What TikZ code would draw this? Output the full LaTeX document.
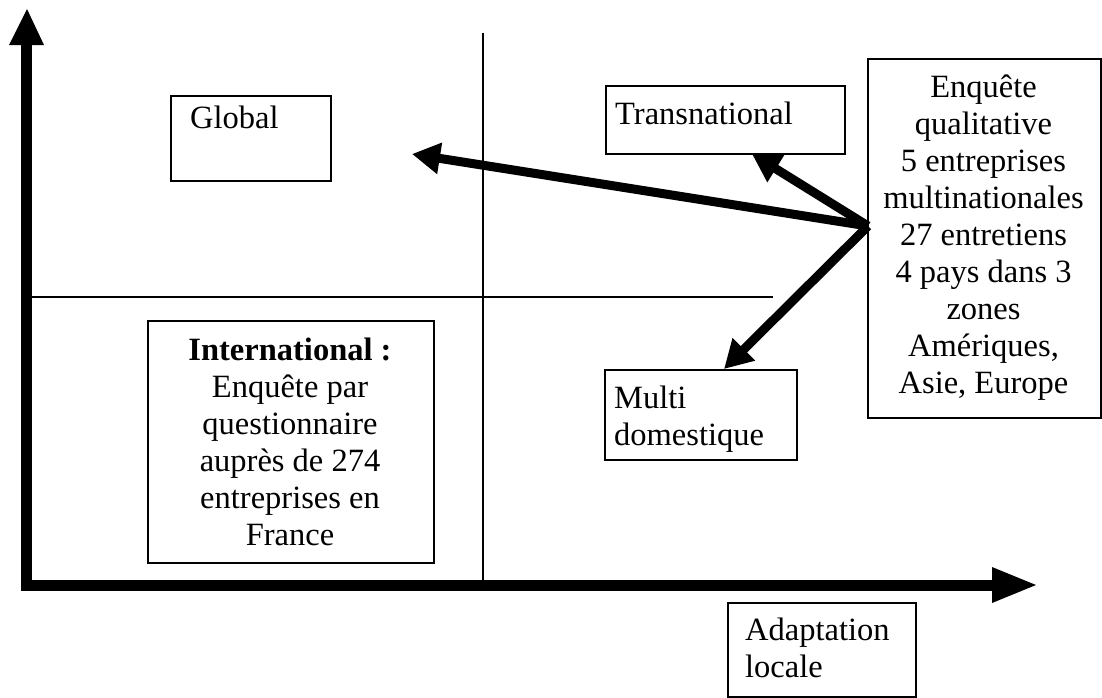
\documentclass[tikz,border=0pt]{standalone}
\usepackage{fontspec}
\setmainfont{Liberation Serif}
\usetikzlibrary{arrows.meta}
\begin{document}
\begin{tikzpicture}[x=1pt,y=-1pt,
  every node/.style={font=\fontsize{32.5}{37}\selectfont},
  boxnode/.style={draw, line width=1.5pt, inner sep=0pt, anchor=north west},
  txtnode/.style={inner sep=0pt, anchor=north west, align=left},
  ctrtxt/.style={inner sep=0pt, anchor=north, align=center},
  axis/.style={line width=11pt},
  thin/.style={line width=1.5pt},
  bigarrow/.style={line width=9pt, -{Triangle[length=28pt,width=30pt]}}
]
\useasboundingbox (0,0) rectangle (1102,697);
% axes
\coordinate (ytop) at (26.5,44);
\coordinate (xend) at (993,585);
\draw[axis] (26.5,591) -- (ytop);
\fill (9,45) -- (27,9) -- (44,45) -- cycle;
\draw[axis] (21,585) -- (xend);
\fill (992,567) -- (1036,585) -- (992,603) -- cycle;
% quadrant lines
\coordinate (hl) at (32,297);
\coordinate (hr) at (773,297);
\coordinate (vt) at (483,33);
\coordinate (vb) at (483,580);
\draw[thin] (hl) -- (hr);
\draw[thin] (vt) -- (vb);
% boxes
\node[boxnode, minimum width=160pt, minimum height=85pt] (global) at (170,95) {};
\node[txtnode] (globaltxt) at (190,106) {Global};
\node[boxnode, minimum width=239pt, minimum height=68pt] (trans) at (605,85) {};
\node[txtnode] (transtxt) at (615,102) {Transnational};
\node[boxnode, minimum width=233pt, minimum height=359pt] (enq) at (867,58) {};
\node[ctrtxt] (enqtxt) at (983.5,75) {Enquête\\qualitative\\5 entreprises\\multinationales\\27 entretiens\\4 pays dans 3\\zones\\Amériques,\\Asie, Europe};
\node[boxnode, minimum width=286pt, minimum height=242pt] (inter) at (147,320) {};
\node[ctrtxt] (intertxt) at (290,338) {\textbf{International :}\\Enquête par\\questionnaire\\auprès de 274\\entreprises en\\France};
\node[boxnode, minimum width=192pt, minimum height=90pt] (multi) at (604,369) {};
\node[txtnode] (multitxt) at (614,386) {Multi\\domestique};
\node[boxnode, minimum width=188pt, minimum height=94pt] (adapt) at (727,602) {};
\node[txtnode] (adapttxt) at (745,618) {Adaptation\\locale};
% arrows
\coordinate (hub) at (868,226);
\coordinate (gtip) at (412,154);
\coordinate (ttip) at (752,154);
\coordinate (mtip) at (724,369);
\draw[bigarrow] (hub) -- (gtip);
\draw[bigarrow] (hub) -- (ttip);
\draw[bigarrow] (hub) -- (mtip);
\end{tikzpicture}
\end{document}
